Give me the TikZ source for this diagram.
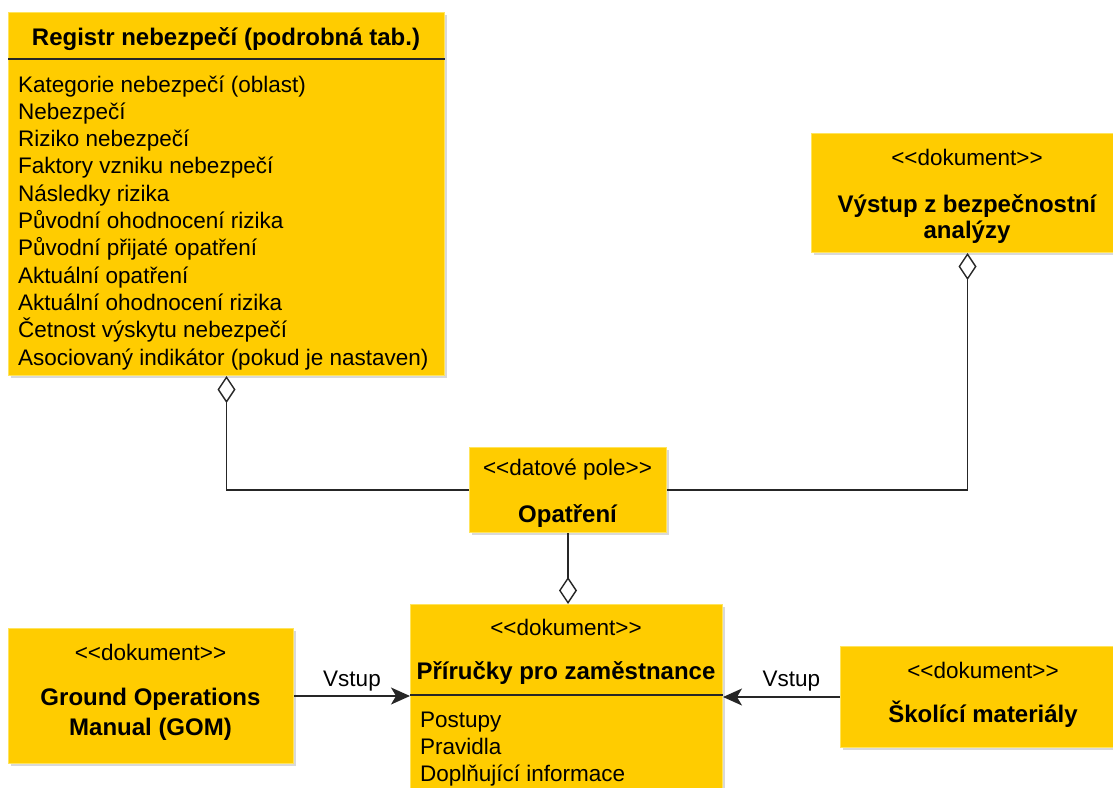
\documentclass[tikz,border=0pt]{standalone}
\usepackage{fontspec}
\setmainfont{Liberation Sans}[Ligatures=TeXOff]
\usetikzlibrary{arrows.meta,shadows}
\definecolor{umlfill}{RGB}{255,204,0}
\definecolor{umlline}{RGB}{255,228,92}

\begin{document}
\begin{tikzpicture}[x=1pt,y=-1pt,
    umlbox/.style={draw=umlline,fill=umlfill,line width=1pt,anchor=north west,inner sep=0pt,
      drop shadow={shadow xshift=2.5pt,shadow yshift=-2.5pt,opacity=0.3}},
    stereo/.style={anchor=base,inner sep=0pt,font=\fontsize{22.5}{27}\selectfont},
    titletxt/.style={anchor=base,inner sep=0pt,font=\fontsize{24}{28}\selectfont\bfseries},
    attr/.style={anchor=base west,inner sep=0pt,font=\fontsize{22.5}{27}\selectfont},
    sep/.style={line width=1.5pt,draw=black!85},
    conn/.style={line width=1.4pt,draw=black!85},
    agg/.style={conn,-{Diamond[length=27pt,width=18pt,fill=white]}},
    inp/.style={conn,-{Stealth[length=19pt,width=17pt,inset=5pt]}}]
          \clip (0,0) rectangle (1113,787);
          % boxes
          \node[umlbox,minimum width=436pt,minimum height=363pt] (reg) at (8,12) {};
          \node[umlbox,minimum width=312pt,minimum height=119pt] (vys) at (811,133) {};
          \node[umlbox,minimum width=197pt,minimum height=85pt] (opat) at (469,447) {};
          \node[umlbox,minimum width=312pt,minimum height=196pt] (pri) at (410,604) {};
          \node[umlbox,minimum width=285pt,minimum height=135pt] (gom) at (8,628) {};
          \node[umlbox,minimum width=286pt,minimum height=101pt] (sko) at (840,646) {};
          % registr nebezpeci
          \node[titletxt] (regT) at (226,45) {Registr nebezpečí (podrobná tab.)};
          \draw[sep] (reg.west |- 0,59) -- (reg.east |- 0,59);
          \foreach \t [count=\i] in {Kategorie nebezpečí (oblast), Nebezpečí, Riziko nebezpečí,
              Faktory vzniku nebezpečí, Následky rizika, Původní ohodnocení rizika,
              Původní přijaté opatření, Aktuální opatření, Aktuální ohodnocení rizika,
              Četnost výskytu nebezpečí, Asociovaný indikátor (pokud je nastaven)}
            \node[attr] (regA\i) at (18,{92+27.3*(\i-1)}) {\t};
          % vystup
          \node[stereo] (vysS) at (967,165) {<<dokument>>};
          \node[titletxt] (vysT1) at (967,212) {Výstup z bezpečnostní};
          \node[titletxt] (vysT2) at (967,238) {analýzy};
          % opatreni
          \node[stereo] (opatS) at (567.5,475) {<<datové pole>>};
          \node[titletxt] (opatT) at (567.5,522) {Opatření};
          % prirucky
          \node[stereo] (priS) at (566,635) {<<dokument>>};
          \node[titletxt] (priT) at (566,679) {Příručky pro zaměstnance};
          \draw[sep] (pri.west |- 0,695) -- (pri.east |- 0,695);
          \node[attr] (priA1) at (420,727) {Postupy};
          \node[attr] (priA2) at (420,754) {Pravidla};
          \node[attr] (priA3) at (420,781) {Doplňující informace};
          % GOM
          \node[stereo] (gomS) at (150.5,660) {<<dokument>>};
          \node[titletxt] (gomT1) at (150.5,705) {Ground Operations};
          \node[titletxt] (gomT2) at (150.5,735) {Manual (GOM)};
          % skolici materialy
          \node[stereo] (skoS) at (983,678) {<<dokument>>};
          \node[titletxt] (skoT) at (983,722) {Školící materiály};
          % connectors
          \draw[agg] (opat.west) -| (reg.south);
          \draw[agg] (opat.east) -| (vys.south);
          \draw[agg] (opat.south) -- (opat.south |- pri.north);
          \draw[inp] (gom.east) -- node[stereo,yshift=9.5pt] (vst1) {Vstup} (gom.east -| pri.west);
          \draw[inp] (sko.west) -- node[stereo,pos=0.415,yshift=10.5pt] (vst2) {Vstup} (sko.west -| pri.east);
        \end{tikzpicture}
\end{document}
